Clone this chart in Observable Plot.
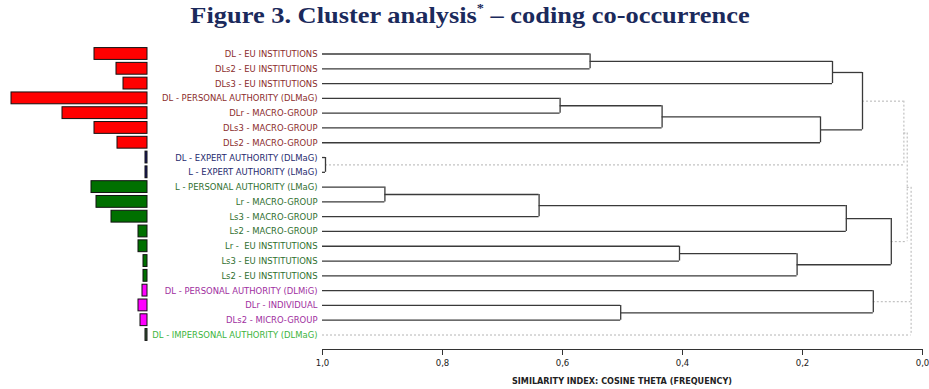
<!DOCTYPE html>
<html><head><meta charset="utf-8">
<script src="https://cdn.jsdelivr.net/npm/d3@7"></script>
<script src="https://cdn.jsdelivr.net/npm/@observablehq/plot@0.6"></script>
<style>
html,body{margin:0;padding:0;background:#fff;}
#wrap{position:relative;width:929px;height:389px;overflow:hidden;background:#fff;}
#title{position:absolute;left:6px;top:2px;width:929px;text-align:center;font:bold 24px "Liberation Serif","Times New Roman",serif;color:#1b2a5c;white-space:nowrap;transform:scaleX(1.1);transform-origin:470px 0;}
#title sup{font-size:13px;vertical-align:top;position:relative;top:-2px;}
.layer{position:absolute;left:0;top:40px;}
#axtitle{position:absolute;left:422px;width:400px;top:376px;text-align:center;font:bold 9px "Liberation Sans Narrow","DejaVu Sans Condensed",sans-serif;color:#222;white-space:nowrap;}
</style></head><body>
<div id="wrap">
<div id="title">Figure 3. Cluster analysis<sup>*</sup> – coding co-occurrence</div>
<div id="dend" class="layer"></div>
<div id="bars" class="layer"></div>
<div id="axtitle"></div>
</div>
<script>
// ---------- data ----------
const labels = [
  "DL - EU INSTITUTIONS",
  "DLs2 - EU INSTITUTIONS",
  "DLs3 - EU INSTITUTIONS",
  "DL - PERSONAL AUTHORITY (DLMaG)",
  "DLr - MACRO-GROUP",
  "DLs3 - MACRO-GROUP",
  "DLs2 - MACRO-GROUP",
  "DL - EXPERT AUTHORITY (DLMaG)",
  "L - EXPERT AUTHORITY (LMaG)",
  "L - PERSONAL AUTHORITY (LMaG)",
  "Lr - MACRO-GROUP",
  "Ls3 - MACRO-GROUP",
  "Ls2 - MACRO-GROUP",
  "Lr -  EU INSTITUTIONS",
  "Ls3 - EU INSTITUTIONS",
  "Ls2 - EU INSTITUTIONS",
  "DL - PERSONAL AUTHORITY (DLMiG)",
  "DLr - INDIVIDUAL",
  "DLs2 - MICRO-GROUP",
  "DL - IMPERSONAL AUTHORITY (DLMaG)"
];
const groups = ["DL","DL","DL","DL","DL","DL","DL","EXP","EXP","L","L","L","L","L","L","L","MI","MI","MI","IMP"];
const frequency = [53,31,24,136,85,53,30,2,2,56,51,36,9,9,4,4,5,9,7,2];
// merges: child node ids (leaves are 0..19, merges numbered from 20), then similarity
const mergeChildren = [
  [0,1],[20,2],[3,4],[22,5],[23,6],[21,24],[7,8],[25,26],
  [9,10],[28,11],[29,12],[13,14],[31,15],[30,32],[27,33],
  [17,18],[16,35],[34,36,19]
];
const mergeSimilarity = [
  0.554,0.150,0.604,0.434,0.170,0.100,0.995,0.031,
  0.896,0.639,0.127,0.405,0.209,0.052,0.0255,
  0.503,0.082,0.019
];
const xTicks = [1,0.8,0.6,0.4,0.2,0];
const axisTitle = "SIMILARITY INDEX: COSINE THETA (FREQUENCY)";

// ---------- styles ----------
const labelColor = {DL:"#8b2c2c", EXP:"#262a6e", L:"#2f6f2f", MI:"#a02ea0", IMP:"#3cb43c"};
const barColor = {DL:"#ff0000", EXP:"#1a1a6e", L:"#007000", MI:"#ff00ff", IMP:"#3a5a3a"};
const font = "'Liberation Sans Narrow','DejaVu Sans Condensed',sans-serif";
const dottedCut = 0.04;

// ---------- build ----------
const rows = labels.map((label,i)=>({i, label, group:groups[i], v:frequency[i]}));
const n = labels.length;
const nodeX = rows.map(()=>1), nodeY = rows.map(r=>r.i);
const hSeg = [], vSeg = [];
mergeChildren.forEach((ch,k)=>{
  const s = mergeSimilarity[k];
  const dotted = s < dottedCut;
  const ys = ch.map(c=>nodeY[c]);
  ch.forEach(c=>hSeg.push({x1:nodeX[c], x2:s, y:nodeY[c], dotted}));
  vSeg.push({x:s, y1:d3.min(ys), y2:d3.max(ys), dotted});
  nodeX[n+k] = s;
  nodeY[n+k] = ch.length===2 ? (ys[0]+ys[1])/2 : d3.mean(ys);
});

const yScale = {domain:[0,n-1], range:[13.5,294.5], axis:null};
const fmt = d => d.toFixed(1).replace(".", ",");

const dend = Plot.plot({
  width:929, height:360,
  marginLeft:322, marginRight:7, marginTop:0, marginBottom:51,
  x:{domain:[1,0]},
  y:yScale,
  color:{type:"identity"},
  style:{fontFamily:font, fontSize:"9.5px", color:"#222", background:"transparent", overflow:"visible"},
  marks:[
    Plot.ruleY(hSeg.filter(d=>d.dotted), {x1:"x1", x2:"x2", y:"y", stroke:"#b4b4b4", strokeWidth:1, strokeDasharray:"2,2"}),
    Plot.ruleX(vSeg.filter(d=>d.dotted), {x:"x", y1:"y1", y2:"y2", stroke:"#b4b4b4", strokeWidth:1, strokeDasharray:"2,2"}),
    Plot.ruleY(hSeg.filter(d=>!d.dotted), {x1:"x1", x2:"x2", y:"y", stroke:"#3a3a3a", strokeWidth:1.3}),
    Plot.ruleX(vSeg.filter(d=>!d.dotted), {x:"x", y1:"y1", y2:"y2", stroke:"#3a3a3a", strokeWidth:1.3}),
    Plot.text(rows, {y:"i", text:"label", frameAnchor:"left", dx:-5, textAnchor:"end",
      fill:d=>labelColor[d.group], fontFamily:font, fontSize:9.4}),
    Plot.frame({anchor:"bottom", stroke:"#333"}),
    Plot.axisX(xTicks, {tickFormat:fmt, tickSize:6, tickPadding:4, label:null, stroke:"#333", fill:"#222"})
  ]
});
document.getElementById("dend").appendChild(dend);

const bars = Plot.plot({
  width:160, height:360, margin:0,
  x:{domain:[0,140], range:[147,7], axis:null},
  y:yScale,
  color:{type:"identity"},
  style:{background:"transparent", overflow:"visible"},
  marks:[
    Plot.rect(rows, {x1:0, x2:"v", y1:d=>d.i-0.4, y2:d=>d.i+0.4, fill:d=>barColor[d.group], stroke:"#111", strokeWidth:1})
  ]
});
document.getElementById("bars").appendChild(bars);
document.getElementById("axtitle").textContent = axisTitle;
</script>
</body></html>
